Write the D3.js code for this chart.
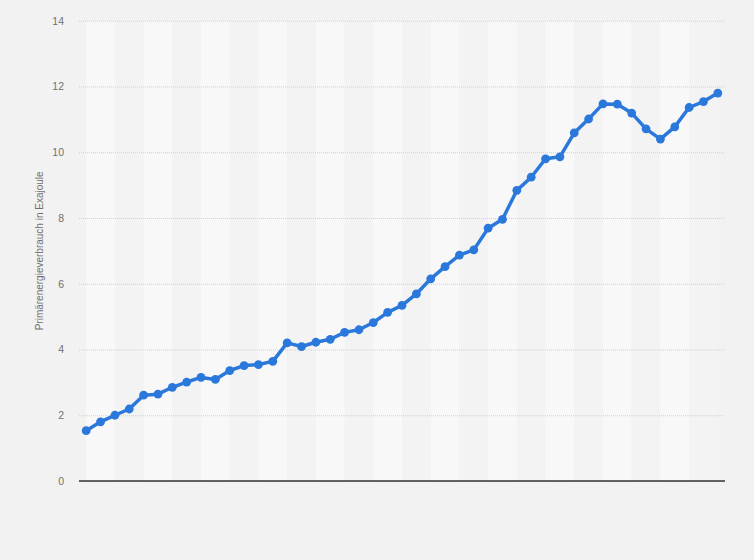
<!DOCTYPE html>
<html>
<head>
<meta charset="utf-8">
<script src="https://cdn.jsdelivr.net/npm/d3@7.9.0/dist/d3.min.js"></script>
<style>
  body { margin: 0; background: #f2f2f2; }
  svg { display: block; font-family: "Liberation Sans", Arial, sans-serif; }
</style>
</head>
<body>
<svg id="chart" width="754" height="560"></svg>
<script>
// one value per year, in order (no year labels shown on the chart)
const years = d3.range(45).map(i => 'J' + (i + 1));
const consumption = [
  1.53, 1.80, 2.00, 2.19, 2.61, 2.64, 2.85, 3.01, 3.15, 3.09,
  3.36, 3.51, 3.54, 3.64, 4.20, 4.09, 4.22, 4.31, 4.52, 4.60,
  4.82, 5.13, 5.34, 5.69, 6.15, 6.52, 6.87, 7.03, 7.69, 7.96,
  8.84, 9.24, 9.80, 9.86, 10.59, 11.01, 11.47, 11.46, 11.19, 10.71,
  10.40, 10.77, 11.36, 11.54, 11.80
];
const yTicks = [0, 2, 4, 6, 8, 10, 12, 14];
const yTitle = 'Primärenergieverbrauch in Exajoule';

const svg = d3.select('#chart');
const plotLeft = 79, plotRight = 725, plotTop = 20.7, plotBottom = 481;

const x = d3.scalePoint().domain(years).range([plotLeft, plotRight]).padding(0.5);
const y = d3.scaleLinear().domain([0, 14]).range([plotBottom, plotTop]);

// alternating column bands, two years wide
const bands = svg.append('g');
for (let i = 0; i < years.length - 1; i += 2) {
  const x0 = x(years[i]);
  const x1 = i + 2 < years.length ? x(years[i + 2]) : plotRight;
  bands.append('rect')
    .attr('x', x0).attr('y', plotTop)
    .attr('width', x1 - x0).attr('height', plotBottom - plotTop)
    .attr('fill', (i / 2) % 2 === 0 ? '#f8f8f8' : '#f3f3f3');
}

// y grid + tick labels
const yAxis = svg.append('g')
  .attr('transform', `translate(${plotLeft},0)`)
  .call(d3.axisLeft(y).tickValues(yTicks).tickSize(-(plotRight - plotLeft)).tickPadding(15));
yAxis.select('.domain').remove();
yAxis.selectAll('.tick line')
  .attr('stroke', '#d0d0d0')
  .attr('stroke-dasharray', '1,1');
yAxis.selectAll('.tick text')
  .attr('fill', '#707070')
  .attr('font-size', 10.5);

// baseline
svg.append('line')
  .attr('x1', plotLeft).attr('x2', plotRight)
  .attr('y1', y(0)).attr('y2', y(0))
  .attr('stroke', '#333').attr('stroke-width', 1.5);

// axis title
svg.append('text')
  .attr('transform', `translate(43,${(plotTop + plotBottom) / 2}) rotate(-90)`)
  .attr('text-anchor', 'middle')
  .attr('fill', '#707070')
  .attr('font-size', 10)
  .text(yTitle);

// line + markers
const line = d3.line()
  .x((d, i) => x(years[i]))
  .y(d => y(d));

svg.append('path')
  .datum(consumption)
  .attr('d', line)
  .attr('fill', 'none')
  .attr('stroke', '#2a78dc')
  .attr('stroke-width', 3.5)
  .attr('stroke-linejoin', 'round');

svg.append('g').selectAll('circle')
  .data(consumption)
  .join('circle')
  .attr('cx', (d, i) => x(years[i]))
  .attr('cy', d => y(d))
  .attr('r', 4.4)
  .attr('fill', '#2a78dc');
</script>
</body>
</html>
